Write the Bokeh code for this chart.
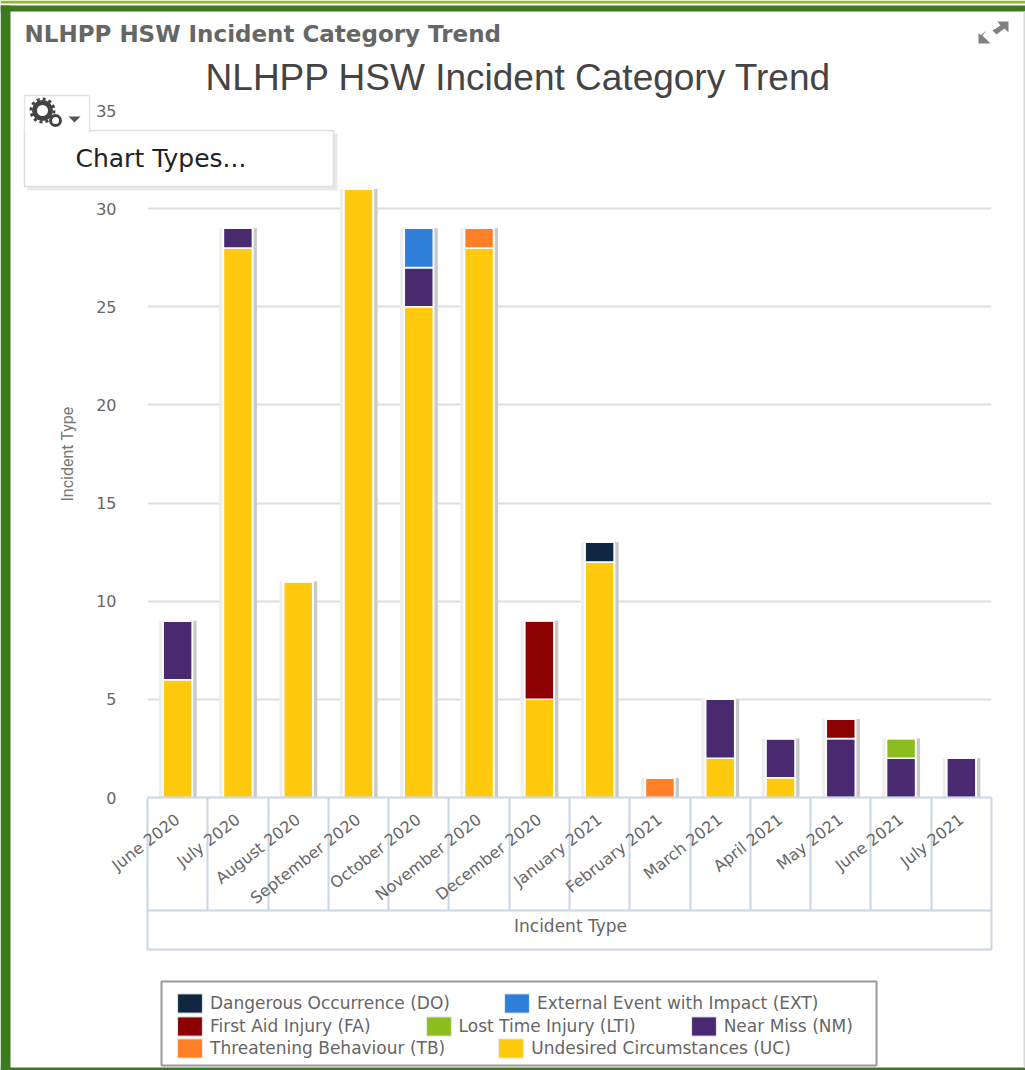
from math import radians
from bokeh.core.properties import value
from bokeh.embed import file_html
from bokeh.layouts import column
from bokeh.resources import INLINE
from bokeh.plotting import figure
from bokeh.models import ColumnDataSource, Range1d, FixedTicker, LinearAxis, Legend, LegendItem

months = ["June 2020", "July 2020", "August 2020", "September 2020", "October 2020", "November 2020",
          "December 2020", "January 2021", "February 2021", "March 2021", "April 2021", "May 2021",
          "June 2021", "July 2021"]
UC = [6, 28, 11, 31, 25, 28, 5, 12, 0, 2, 1, 0, 0, 0]
NM = [3, 1, 0, 0, 2, 0, 0, 0, 0, 3, 2, 3, 2, 2]
TB = [0, 0, 0, 0, 0, 1, 0, 0, 1, 0, 0, 0, 0, 0]
LTI = [0, 0, 0, 0, 0, 0, 0, 0, 0, 0, 0, 0, 1, 0]
FA = [0, 0, 0, 0, 0, 0, 4, 0, 0, 0, 0, 1, 0, 0]
EXT = [0, 0, 0, 0, 2, 0, 0, 0, 0, 0, 0, 0, 0, 0]
DO = [0, 0, 0, 0, 0, 0, 0, 1, 0, 0, 0, 0, 0, 0]
series_keys = ["UC", "NM", "TB", "LTI", "FA", "EXT", "DO"]
series_values = [UC, NM, TB, LTI, FA, EXT, DO]
series_names = {"DO": "Dangerous Occurrence (DO)", "EXT": "External Event with Impact (EXT)",
                "FA": "First Aid Injury (FA)", "LTI": "Lost Time Injury (LTI)", "NM": "Near Miss (NM)",
                "TB": "Threatening Behaviour (TB)", "UC": "Undesired Circumstances (UC)"}
series_colors = {"DO": "#0f2740", "EXT": "#2e7fd9", "FA": "#8b0000", "LTI": "#8cbd1f", "NM": "#49296f",
                 "TB": "#ff7f27", "UC": "#ffc90e"}
legend_rows = [["DO", "EXT"], ["FA", "LTI", "NM"], ["TB", "UC"]]
y_ticks = [0, 5, 10, 15, 20, 25, 30, 35]

W, H = 1025, 1070
L, R, T, B = 147, 991, 110, 797
TEXT = "#666666"
TABLE = "#c8d6e6"
GREEN = "#3b7a1f"

# back layer: the page furniture, one figure whose frame is the whole window, in pixels
bg = figure(width=W, height=H, output_backend="svg", toolbar_location=None,
            x_range=Range1d(0, W), y_range=Range1d(H, 0), x_axis_location=None, y_axis_location=None,
            min_border=0, outline_line_color=None, background_fill_color="white", border_fill_color="white",
            frame_align=False)
bg.grid.visible = False


def box(l, t, r, b, fill="white", line=None, lw=1, alpha=1.0):
    bg.quad(left=[l], right=[r], top=[t], bottom=[b], fill_color=fill, fill_alpha=alpha,
            line_color=line, line_width=lw)


def label(px, py, text, size, color=TEXT, font="DejaVu Sans", style="normal", align="left"):
    bg.text(x=[px], y=[py], text=[text], text_font=value(font), text_font_size=f"{size}px",
            text_font_style=style, text_color=color, text_align=align, text_baseline="middle")


box(0, 0, W, 3, fill="#8fbc1e")
box(0, 5, W, 11, fill=GREEN)
box(0, 5, 10, H, fill=GREEN)
box(0, H - 3, W, H, fill=GREEN)
box(W - 2, 11, W, H - 3, fill="#d8d8d8")

box(L, 910, R, 949, fill="white", line=TABLE, lw=2)
label((L + R) / 2 + 1, 925, "Incident Type", 17, align="center")

label(24, 33, "NLHPP HSW Incident Category Trend", 23, style="bold")
label(518, 77, "NLHPP HSW Incident Category Trend", 37, color="#444444", font="Liberation Sans", align="center")

box(27, 133, 337, 190, fill="#e2e2e2", alpha=0.8)
box(24, 130, 333, 186, fill="white", line="#dedede", lw=1.5)
box(24, 95, 89, 131, fill="white", line="#e4e4e4", lw=1.5)
box(25, 125, 88, 133, fill="white")
label(75, 158, "Chart Types...", 25, color="#222222")
bg.scatter(x=[42], y=[110], size=16, fill_color=None, line_color="#444444", line_width=5)
bg.scatter(x=[42], y=[110], size=23, fill_color=None, line_color="#444444", line_width=3, line_dash="3 3")
bg.scatter(x=[55], y=[120], size=10, fill_color=None, line_color="#444444", line_width=3)
bg.patch(x=[68, 80, 74], y=[116, 116, 122], fill_color="#555555", line_color=None)

arrow_xs = [[997, 1008, 1008, 1004, 996, 992, 1000], [978, 978, 990, 986, 981, 986, 982]]
arrow_ys = [[21, 21, 32, 28, 34, 30, 25], [33, 43, 43, 39, 34, 30, 35]]
bg.patches(xs=arrow_xs, ys=arrow_ys, fill_color="#808080", line_color=None)

box(161, 981, 876, 1065, fill="white", line="#999999", lw=2)
swatch = {k: bg.vbar(x=[-100], top=[-100], width=1, fill_color=series_colors[k], line_color="#e8e8e8", line_width=1)
          for k in series_names}
for row, py, gap in zip(legend_rows, [1015, 1037.5, 1060], [51, 52, 50]):
    lg = Legend(items=[LegendItem(label=series_names[k], renderers=[swatch[k]]) for k in row],
                orientation="horizontal", location=(174, H - py), padding=0, margin=0, spacing=gap,
                glyph_width=31, glyph_height=24, label_standoff=5, label_height=20, border_line_color=None,
                background_fill_alpha=0, label_text_font="DejaVu Sans", label_text_font_size="17px",
                label_text_color=TEXT)
    bg.add_layout(lg, "center")

# front layer: the chart itself, transparent over the back layer
x = list(range(len(months)))
p = figure(width=W, height=H, output_backend="svg", toolbar_location=None,
           x_range=Range1d(-0.5, len(months) - 0.5), y_range=Range1d(0, 35),
           x_axis_location=None, y_axis_location=None, frame_align=False,
           min_border_left=L, min_border_right=W - R, min_border_top=T, min_border_bottom=H - B)
p.styles = {"margin-top": f"-{H}px"}
p.outline_line_color = None
p.background_fill_color = None
p.border_fill_color = None
p.xgrid.visible = False

ya = LinearAxis(ticker=FixedTicker(ticks=y_ticks), axis_label="Incident Type",
                axis_line_color=None, major_tick_line_color=None, minor_tick_line_color=None,
                major_label_standoff=25, major_label_text_font="DejaVu Sans", major_label_text_font_size="16px",
                major_label_text_color=TEXT, axis_label_text_font="Roboto", axis_label_text_font_style="normal",
                axis_label_text_font_size="16px", axis_label_text_color="#777777", axis_label_standoff=16)
p.add_layout(ya, "left")
p.ygrid.ticker = FixedTicker(ticks=y_ticks)
p.ygrid.grid_line_color = "#dcdfe2"
p.ygrid.grid_line_width = 2

xa = LinearAxis(ticker=FixedTicker(ticks=x, minor_ticks=[i - 0.5 for i in range(len(months) + 1)]),
                major_label_overrides={i: m for i, m in enumerate(months)},
                major_label_orientation=radians(38), major_tick_out=0, major_tick_in=0, major_tick_line_color=None,
                minor_tick_out=113, minor_tick_in=0, minor_tick_line_color=TABLE, minor_tick_line_width=2,
                axis_line_color=TABLE, axis_line_width=2, major_label_standoff=-93,
                major_label_text_font="DejaVu Sans", major_label_text_font_size="16px",
                major_label_text_color=TEXT)
p.add_layout(xa, "below")

total = [sum(v) for v in zip(*series_values)]
data = {"x": x, "total": total}
data.update({k: v for k, v in zip(series_keys, series_values)})
src = ColumnDataSource(data)
p.vbar(x="x", top="total", width=0.62, source=src, fill_color="#eeeeee", line_color=None)
shadow = ColumnDataSource({"x": [i + 0.055 for i in x], "total": total})
p.vbar(x="x", top="total", width=0.52, source=shadow, fill_color="#c9c9c9", line_color=None)
p.vbar(x="x", top="total", width=0.52, source=src, fill_color="white", line_color=None)
p.vbar_stack(series_keys, x="x", width=0.48, source=src, color=[series_colors[k] for k in series_keys],
             line_color="white", line_width=1.5)

page = column(bg, p, styles={"position": "absolute", "left": "0", "top": "0"}, spacing=0)
open("out.html", "w").write(file_html(page, INLINE))
